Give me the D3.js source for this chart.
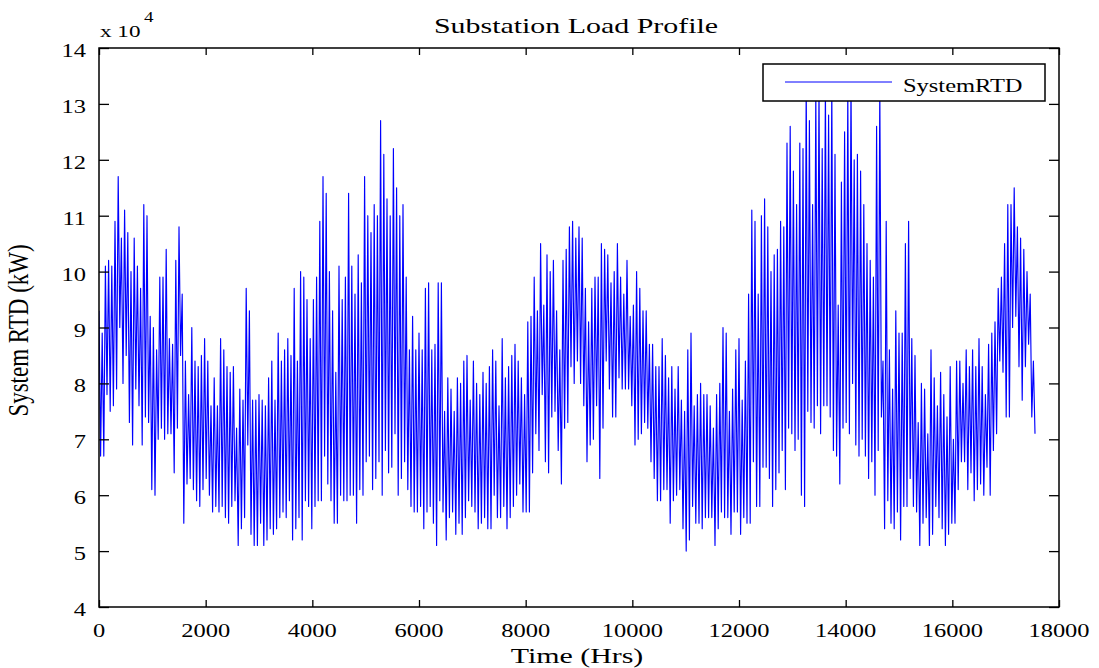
<!DOCTYPE html>
<html>
<head>
<meta charset="utf-8">
<script src="https://cdn.jsdelivr.net/npm/d3@7"></script>
<style>
  html, body { margin: 0; padding: 0; background: #fff; }
  svg { display: block; font-family: "Liberation Serif", "Times New Roman", serif; }
</style>
</head>
<body>
<svg id="chart" width="1099" height="668"></svg>
<script>
// Substation load, sampled as alternating peak / trough readings (units of 10^4 kW)
const sampleStepHrs = 60;

const peakLoad = [
  9.3,8.9,10.1,10.2,10.1,10.9,11.7,10.6,11.1,10.7,10.0,10.6,10.1,9.7,11.2,11.0,9.2,9.0,8.6,9.9,
  9.9,10.4,8.8,8.7,10.2,10.8,9.6,8.4,7.8,9.0,8.4,8.3,8.5,8.8,8.4,7.6,8.1,7.6,
  8.8,8.6,8.3,8.2,8.3,7.2,7.9,7.7,9.7,9.3,7.7,7.7,7.8,7.7,7.6,8.1,8.4,7.7,8.9,8.4,
  8.6,8.8,8.5,9.7,8.4,10.0,9.9,9.5,8.8,9.5,9.9,10.9,11.7,11.4,10.0,9.3,8.2,
  10.1,9.5,9.9,11.4,10.1,9.6,10.3,9.8,11.7,11.0,10.7,11.2,11.0,12.7,12.1,11.3,11.0,12.2,11.5,11.0,
  11.2,9.9,8.6,9.2,8.6,8.9,8.6,9.7,9.8,8.6,8.7,9.8,9.8,7.5,8.1,7.9,7.5,8.1,
  8.0,8.4,8.5,7.7,8.4,8.0,7.8,8.2,8.0,8.3,8.6,8.4,7.6,8.8,8.1,8.3,8.5,8.7,8.4,8.1,
  7.8,9.1,9.2,9.9,9.3,10.5,9.4,10.3,10.0,10.2,9.3,8.6,10.2,10.4,10.8,10.9,10.6,10.8,
  10.6,9.7,9.1,9.7,9.9,9.9,10.5,10.4,10.3,9.8,10.0,10.5,9.9,9.6,10.2,9.2,9.4,10.0,9.7,9.3,
  9.3,8.7,8.7,8.3,8.3,8.8,8.5,8.1,8.3,7.9,8.3,7.7,7.5,8.6,8.9,7.6,7.8,
  8.0,7.8,7.8,7.6,7.2,7.8,8.0,9.0,8.9,7.5,7.9,8.6,8.8,7.7,8.4,9.6,11.1,10.9,9.6,11.0,
  11.3,10.8,10.0,10.3,10.4,10.9,10.8,12.3,12.6,11.8,11.2,12.3,12.2,13.4,12.7,11.2,13.2,13.3,
  12.2,13.3,12.8,13.3,12.1,9.4,11.6,12.5,13.2,13.4,12.0,12.1,11.8,11.2,10.5,10.2,9.9,12.6,13.3,8.4,
  10.9,8.6,7.9,9.3,8.9,8.9,10.5,10.9,8.8,8.5,7.3,8.0,7.9,7.1,8.6,8.1,7.6,
  8.2,7.8,7.4,8.3,7.0,8.4,8.4,8.0,8.6,8.3,8.6,8.3,8.8,8.3,7.8,8.7,8.9,9.1,9.7,9.9,
  10.5,11.2,11.2,11.5,10.8,10.6,10.4,10.0,9.6,8.4
];

const troughLoad = [
  6.7,6.7,7.8,7.5,7.6,7.9,9.0,8.0,8.5,7.3,6.9,7.9,7.6,6.9,7.4,7.3,6.1,6.0,7.0,7.2,
  7.0,7.1,7.1,6.4,7.2,8.5,5.5,6.2,6.3,6.1,5.9,5.8,6.1,6.3,6.0,5.7,5.8,5.7,
  5.8,5.6,5.5,5.8,5.9,5.1,5.4,5.6,6.9,5.3,5.1,5.1,5.5,5.1,5.2,5.4,5.3,5.4,5.6,5.7,
  5.6,5.9,5.2,5.4,5.6,5.2,5.9,5.8,5.4,5.8,5.9,5.9,6.7,6.2,5.9,5.5,5.5,
  6.0,5.9,5.9,6.0,6.0,5.5,6.1,6.0,6.6,6.7,6.1,6.3,6.6,6.0,6.8,6.4,6.5,7.1,6.0,6.3,
  6.6,6.1,5.8,5.7,5.7,5.8,5.4,5.7,5.8,5.5,5.1,5.9,5.7,5.2,5.6,5.7,5.3,5.5,
  5.3,5.6,5.9,5.8,5.7,5.4,5.5,5.6,5.4,5.4,6.0,5.6,5.6,5.8,5.4,5.6,5.8,6.0,6.2,5.7,
  5.7,5.7,6.4,7.1,6.8,7.8,6.6,6.4,7.4,7.5,6.8,6.2,7.2,7.3,8.3,8.0,8.4,8.0,
  7.6,6.6,6.9,7.0,7.6,6.3,7.2,8.4,7.9,7.4,7.4,8.1,7.9,7.9,7.9,7.6,6.9,7.0,7.1,7.3,
  7.2,6.6,6.3,5.9,5.9,6.1,6.1,5.5,5.9,6.0,6.1,5.4,5.0,5.2,5.8,5.5,5.5,
  5.4,5.6,5.6,5.6,5.1,5.4,5.7,5.6,5.6,5.3,5.7,5.7,5.3,5.6,5.5,5.5,6.6,5.8,5.8,6.5,
  6.5,6.3,5.8,6.1,6.4,6.8,6.1,7.2,7.1,6.8,7.0,6.0,5.8,7.5,7.3,7.2,7.6,7.1,
  7.6,7.6,7.4,6.8,6.7,6.2,7.2,7.3,7.1,8.0,6.9,6.7,7.0,6.7,6.3,6.6,6.0,6.8,7.4,5.4,
  5.9,5.5,5.4,5.7,5.2,5.8,5.8,6.3,5.8,5.7,5.1,5.5,5.6,5.1,5.3,5.8,5.6,
  5.4,5.1,5.3,5.5,5.5,6.1,6.6,6.6,6.1,6.4,5.9,6.1,6.2,6.0,6.5,6.0,6.8,7.1,8.4,8.2,
  7.4,7.4,9.0,9.2,8.3,7.7,8.3,8.7,7.4,7.1
];

const xTickValues = [0, 2000, 4000, 6000, 8000, 10000, 12000, 14000, 16000, 18000];
const yTickValues = [4, 5, 6, 7, 8, 9, 10, 11, 12, 13, 14];

const chartTitle = "Substation Load Profile";
const xAxisTitle = "Time (Hrs)";
const yAxisTitle = "System RTD (kW)";
const seriesName = "SystemRTD";

// ---- layout ----
const plot = { left: 99, right: 1059, top: 48, bottom: 607 };
const stretch = 1.36;          // horizontal glyph stretch of the exported figure
const lineBlue = "#0000ff";

const svg = d3.select("#chart");

const x = d3.scaleLinear().domain([0, 18000]).range([plot.left, plot.right]);
const y = d3.scaleLinear().domain([4, 14]).range([plot.bottom, plot.top]);

// Alternate peak and trough readings into one time series
const series = [];
peakLoad.forEach((p, i) => {
  series.push({ t: i * sampleStepHrs, v: p });
  series.push({ t: i * sampleStepHrs + sampleStepHrs / 2, v: troughLoad[i] });
});

svg.append("defs").append("clipPath").attr("id", "plotClip")
  .append("rect")
  .attr("x", plot.left).attr("y", plot.top)
  .attr("width", plot.right - plot.left).attr("height", plot.bottom - plot.top);

// Data line
svg.append("path")
  .datum(series)
  .attr("clip-path", "url(#plotClip)")
  .attr("fill", "none")
  .attr("stroke", lineBlue)
  .attr("stroke-width", 1.15)
  .attr("stroke-linejoin", "round")
  .attr("d", d3.line().x(d => x(d.t)).y(d => y(d.v)));

// Inward tick marks on all four sides
function tickAxis(axis, tx, ty, size) {
  const g = svg.append("g")
    .attr("transform", `translate(${tx},${ty})`)
    .call(axis.tickSize(size).tickFormat(""));
  g.select(".domain").remove();
  g.selectAll(".tick line").attr("stroke", "#000").attr("stroke-width", 1.3);
}
tickAxis(d3.axisBottom(x).tickValues(xTickValues), 0, plot.bottom, -7);
tickAxis(d3.axisTop(x).tickValues(xTickValues), 0, plot.top, -7);
tickAxis(d3.axisLeft(y).tickValues(yTickValues), plot.left, 0, -10);
tickAxis(d3.axisRight(y).tickValues(yTickValues), plot.right, 0, -10);

// Frame
svg.append("rect")
  .attr("x", plot.left).attr("y", plot.top)
  .attr("width", plot.right - plot.left).attr("height", plot.bottom - plot.top)
  .attr("fill", "none").attr("stroke", "#000").attr("stroke-width", 1.5);

// Stretched text helper
function label(tx, ty, str, size, anchor) {
  const g = svg.append("g").attr("transform", `translate(${tx},${ty}) scale(${stretch},1)`);
  return g.append("text")
    .attr("text-anchor", anchor)
    .attr("fill", "#000")
    .style("font-size", size + "px")
    .text(str);
}

// Tick labels
xTickValues.forEach(v => label(x(v), plot.bottom + 30, d3.format("d")(v), 18, "middle"));
yTickValues.forEach(v => label(plot.left - 13, y(v) + 9, String(v), 18, "end"));

// Exponent marker
label(plot.left + 1, 37, "x 10", 17, "start");
label(plot.left + 45, 22, "4", 14, "start");

// Titles
label((plot.left + plot.right) / 2 - 3, 33, chartTitle, 22, "middle");
label((plot.left + plot.right) / 2 - 2, 663, xAxisTitle, 22, "middle");

svg.append("g")
  .attr("transform", `translate(28,${(plot.top + plot.bottom) / 2 + 3}) rotate(-90) scale(1,1.25)`)
  .append("text")
  .attr("text-anchor", "middle")
  .style("font-size", "23px")
  .text(yAxisTitle);

// Legend
const legend = svg.append("g");
legend.append("rect")
  .attr("x", 763).attr("y", 64).attr("width", 282).attr("height", 37)
  .attr("fill", "#fff").attr("stroke", "#000").attr("stroke-width", 1.5);
legend.append("line")
  .attr("x1", 785).attr("x2", 892).attr("y1", 82).attr("y2", 82)
  .attr("stroke", lineBlue).attr("stroke-width", 1);
label(903, 92, seriesName, 18, "start");
</script>
</body>
</html>
